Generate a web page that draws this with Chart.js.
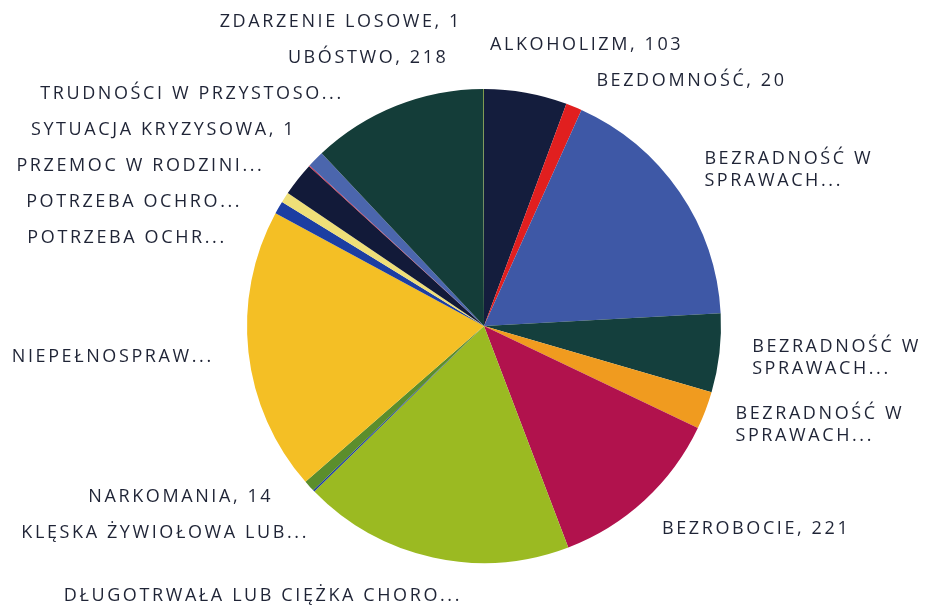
<!DOCTYPE html>
<html>
<head>
<meta charset="utf-8">
<script src="https://cdn.jsdelivr.net/npm/chart.js@4"></script>
<style>
  html, body { margin: 0; padding: 0; background: #fff; }
  #wrap { width: 930px; height: 614px; }
</style>
</head>
<body>
<div id="wrap"><canvas id="chart" width="930" height="614"></canvas></div>
<script>
// Slices in the order they run clockwise from 12 o'clock
const categories = [
    'ALKOHOLIZM',
    'BEZDOMNOŚĆ',
    ['BEZRADNOŚĆ W', 'SPRAWACH...'],
    ['BEZRADNOŚĆ W', 'SPRAWACH...'],
    ['BEZRADNOŚĆ W', 'SPRAWACH...'],
    'BEZROBOCIE',
    'DŁUGOTRWAŁA LUB CIĘŻKA CHORO...',
    'KLĘSKA ŻYWIOŁOWA LUB...',
    'NARKOMANIA',
    'NIEPEŁNOSPRAW...',
    'POTRZEBA OCHR...',
    'POTRZEBA OCHRO...',
    'PRZEMOC W RODZINI...',
    'SYTUACJA KRYZYSOWA',
    'TRUDNOŚCI W PRZYSTOSO...',
    'UBÓSTWO',
    'ZDARZENIE LOSOWE'
];
const values = [103, 20, 317, 98, 47, 221, 337, 2, 14, 352, 16, 13, 42, 1, 21, 218, 1];
const colors = [
    '#141d3d', '#e11f1f', '#3e58a6', '#143f3d', '#f09b1f', '#b1124d',
    '#9bba22', '#2040a0', '#5b8e2c', '#f4bf25', '#1c3ea2', '#efdf78',
    '#121a39', '#d0203c', '#4b66ad', '#143d39', '#6b8a2c'
];

// truncated names are shown without the value
function labelLines(i) {
    const c = categories[i];
    if (Array.isArray(c)) return c;
    if (c.endsWith('...')) return [c];
    return [c + ', ' + values[i]];
}

const outsideLabels = {
    id: 'outsideLabels',
    afterDatasetsDraw(chart) {
        const ctx = chart.ctx;
        const arcs = chart.getDatasetMeta(0).data;
        const cx = arcs[0].x, cy = arcs[0].y, r = arcs[0].outerRadius;
        const Ry = r + 39, Rx = r + 33;
        const left = [], right = [];
        arcs.forEach((arc, i) => {
            const mid = (arc.startAngle + arc.endAngle) / 2;
            const lines = labelLines(i);
            const item = {
                lines,
                y0: cy + Ry * Math.sin(mid),
                nx: Math.abs(Rx * Math.cos(mid)),
                h: 36 + (lines.length - 1) * 22
            };
            (Math.cos(mid) < 0 ? left : right).push(item);
        });

        function spread(items) {
            items.sort((a, b) => a.y0 - b.y0);
            const place = g => {
                const H = g.reduce((s, it) => s + it.h, 0);
                const c = g.reduce((s, it) => s + it.y0, 0) / g.length;
                return { top: c - H / 2, bottom: c + H / 2 };
            };
            let groups = items.map(it => [it]);
            let merged = true;
            while (merged) {
                merged = false;
                for (let i = 0; i < groups.length - 1; i++) {
                    if (place(groups[i]).bottom > place(groups[i + 1]).top) {
                        groups.splice(i, 2, groups[i].concat(groups[i + 1]));
                        merged = true;
                        break;
                    }
                }
            }
            groups.forEach(g => {
                let t = place(g).top;
                g.forEach(it => { it.y = t + it.h / 2; t += it.h; });
            });
        }
        spread(left);
        spread(right);

        ctx.save();
        ctx.font = '18px "Open Sans", sans-serif';
        ctx.letterSpacing = '2.6px';
        ctx.fillStyle = '#1f2436';
        ctx.textBaseline = 'middle';
        const draw = (items, side) => {
            items.forEach(it => {
                const dy = it.y - cy;
                let dx = Math.sqrt(Math.max(Rx * Rx - dy * dy, 0));
                // below the pie, past the circle: keep the slice's own offset
                if (dy > Rx) dx = it.nx;
                let x;
                if (side < 0) {
                    x = cx - Math.max(dx + 2, 22);
                    ctx.textAlign = 'right';
                } else {
                    x = cx + Math.max(dx, 6);
                    ctx.textAlign = 'left';
                }
                const top = it.y - (it.lines.length - 1) * 11;
                it.lines.forEach((ln, k) => ctx.fillText(ln, x, top + k * 22));
            });
        };
        draw(left, -1);
        draw(right, 1);
        ctx.restore();
    }
};

new Chart(document.getElementById('chart'), {
    type: 'pie',
    data: {
        labels: categories.map(c => Array.isArray(c) ? c.join(' ') : c),
        datasets: [{
            data: values,
            backgroundColor: colors,
            borderWidth: 0
        }]
    },
    options: {
        responsive: false,
        animation: false,
        layout: { padding: { top: 89, bottom: 51, left: 247, right: 209 } },
        plugins: {
            legend: { display: false },
            tooltip: { enabled: false }
        }
    },
    plugins: [outsideLabels]
});
</script>
</body>
</html>
